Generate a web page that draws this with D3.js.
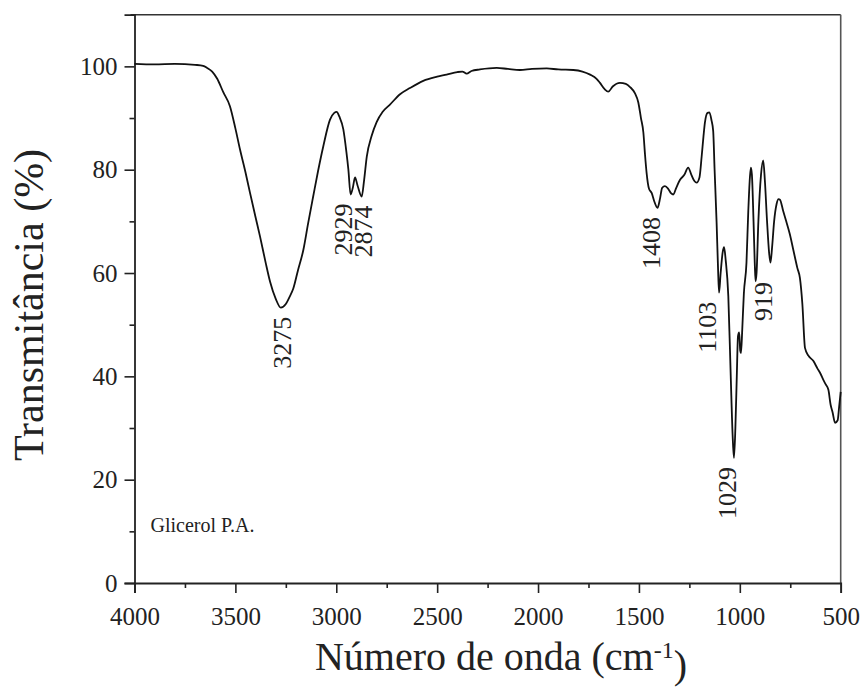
<!DOCTYPE html>
<html>
<head>
<meta charset="utf-8">
<script src="https://cdn.jsdelivr.net/npm/d3@7"></script>
<style>
  html, body { margin: 0; padding: 0; background: #fff; }
  svg { display: block; }
  text { font-family: "Liberation Serif", "Times New Roman", serif; fill: #222; }
</style>
</head>
<body>
<svg id="chart" width="861" height="688"></svg>
<script>
// ---- Data ----
const wavenumber = [4000,3900,3800,3700,3660,3640,3615,3590,3560,3527,3500,3477,3450,3428,3400,3378,3350,3328,3300,3275,3250,3230,3213,3190,3163,3140,3114,3090,3064,3031,3010,2998,2985,2965,2950,2940,2929,2918,2907,2895,2874,2862,2849,2825,2800,2770,2734,2684,2635,2569,2500,2453,2400,2375,2354,2330,2288,2205,2150,2090,2030,1957,1900,1825,1780,1742,1710,1693,1670,1652,1630,1594,1565,1544,1520,1503,1490,1478,1470,1462,1450,1437,1425,1408,1395,1385,1371,1355,1340,1330,1315,1297,1275,1256,1240,1225,1214,1200,1189,1180,1173,1160,1151,1140,1132,1125,1115,1108,1103,1095,1085,1078,1070,1057,1045,1035,1029,1022,1015,1009,1003,998,994,988,980,967,958,950,945,940,932,926,922,917,908,895,884,876,865,855,848,840,830,818,808,801,785,770,752,735,715,702,690,677,660,636,615,600,586,575,561,550,540,528,515,508,500];
const transmittance = [100.5,100.4,100.5,100.3,100.1,99.7,99.0,97.6,95.0,92.3,88.0,83.9,79.5,75.6,70.8,67.1,62.0,58.3,55.0,53.3,54.0,55.5,57.0,60.5,64.5,69.5,74.9,79.8,84.6,89.7,91.0,91.2,90.3,87.8,83.5,80.0,75.2,76.5,78.5,77.0,74.8,78.0,82.5,86.5,89.2,91.2,92.6,94.6,95.8,97.2,98.0,98.4,98.9,99.0,98.6,99.1,99.4,99.7,99.5,99.3,99.5,99.6,99.4,99.3,99.0,98.4,97.6,96.8,95.6,95.1,96.1,96.8,96.6,96.0,94.8,93.0,90.0,87.2,83.0,79.4,76.3,75.5,74.0,72.6,74.5,76.5,76.8,76.3,75.4,75.2,76.5,78.0,79.0,80.4,79.0,77.8,77.5,78.5,82.6,86.5,89.1,91.0,91.1,89.5,87.5,80.0,69.7,61.0,56.2,60.0,64.0,65.0,62.5,55.5,40.0,28.0,24.2,30.0,40.0,47.8,48.5,45.0,44.5,49.0,56.0,62.0,72.0,78.5,80.4,79.0,70.0,62.0,58.4,60.0,70.0,79.0,81.8,78.0,70.0,64.0,62.0,65.0,70.0,73.3,74.3,74.2,72.0,70.0,67.5,64.5,61.0,59.0,54.0,45.5,44.0,43.0,41.5,40.5,39.3,38.5,37.4,34.5,33.0,31.0,31.5,34.0,37.0];

const peakLabels = [3275, 2929, 2874, 1408, 1103, 1029, 919];
const xTickValues = [4000, 3500, 3000, 2500, 2000, 1500, 1000, 500];
const xMinorTickValues = [3750, 3250, 2750, 2250, 1750, 1250, 750];
const yTickValues = [0, 20, 40, 60, 80, 100];
const yMinorTickValues = [10, 30, 50, 70, 90];
const sampleLabel = "Glicerol P.A.";
const xTitle = "Número de onda (cm";
const xTitleSup = "-1";
const yTitle = "Transmitância (%)";

// ---- Layout ----
const svg = d3.select("#chart");
const mLeft = 134.5, mRight = 840.7, mTop = 14.7, mBottom = 583;

const x = d3.scaleLinear().domain([4000, 500]).range([mLeft, mRight]);
const y = d3.scaleLinear().domain([0, 110]).range([mBottom, mTop]);

const data = wavenumber.map((w, i) => ({ w, t: transmittance[i] }));

// frame (top and right)
svg.append("line").attr("x1", mLeft - 4).attr("x2", mRight).attr("y1", mTop).attr("y2", mTop)
  .attr("stroke", "#333").attr("stroke-width", 1.6);
svg.append("line").attr("x1", mRight).attr("x2", mRight).attr("y1", mTop).attr("y2", mBottom)
  .attr("stroke", "#555").attr("stroke-width", 1.6);

// x axis
const gx = svg.append("g").attr("transform", `translate(0,${mBottom})`);
gx.call(d3.axisBottom(x).tickValues(xTickValues).tickFormat(d3.format("d")).tickSize(10).tickPadding(14));
const gxm = svg.append("g").attr("transform", `translate(0,${mBottom})`);
gxm.call(d3.axisBottom(x).tickValues(xMinorTickValues).tickFormat("").tickSize(5));
gxm.select(".domain").remove();

// y axis
const gy = svg.append("g").attr("transform", `translate(${mLeft},0)`);
gy.call(d3.axisLeft(y).tickValues(yTickValues).tickFormat(d3.format("d")).tickSize(10).tickPadding(7));
const gym = svg.append("g").attr("transform", `translate(${mLeft},0)`);
gym.call(d3.axisLeft(y).tickValues(yMinorTickValues).tickFormat("").tickSize(5));
gym.select(".domain").remove();

svg.selectAll(".domain").attr("stroke", "#222").attr("stroke-width", 1.8);
svg.selectAll(".tick line").attr("stroke", "#222").attr("stroke-width", 1.6);
svg.selectAll(".tick text")
  .style("font-family", '"Liberation Serif", "Times New Roman", serif')
  .style("font-size", "25px").attr("fill", "#222");

// spectrum line
const line = d3.line().x(d => x(d.w)).y(d => y(d.t)).curve(d3.curveMonotoneX);
svg.append("path").datum(data).attr("d", line)
  .attr("fill", "none").attr("stroke", "#111").attr("stroke-width", 1.8)
  .attr("stroke-linejoin", "round");

// peak labels (rotated), placed just below the local minimum of the curve
const labelNudge = { 3275: 1, 2929: -8, 2874: 1, 1408: -7, 1103: -12, 1029: -7, 919: 7 };
peakLabels.forEach(p => {
  let best = data[0];
  data.forEach(d => { if (Math.abs(d.w - p) < Math.abs(best.w - p)) best = d; });
  const px = x(p) + labelNudge[p];
  const py = y(best.t) + 9;
  svg.append("text")
    .attr("transform", `translate(${px},${py}) rotate(-90)`)
    .attr("text-anchor", "end")
    .attr("dy", "0.35em")
    .style("font-size", "26px")
    .text(p);
});

// sample label
svg.append("text").attr("x", mLeft + 16).attr("y", 532)
  .style("font-size", "20px").text(sampleLabel);

// x title with superscript
const xt = svg.append("text").attr("x", 501).attr("y", 670)
  .attr("text-anchor", "middle").style("font-size", "40px");
xt.append("tspan").text(xTitle);
xt.append("tspan").attr("dy", "-0.5em").style("font-size", "24px").text(xTitleSup);
xt.append("tspan").attr("dy", "0.5em").text(")");

// y title
svg.append("text")
  .attr("transform", `translate(43,305) rotate(-90)`)
  .attr("text-anchor", "middle")
  .style("font-size", "42px")
  .text(yTitle);
</script>
</body>
</html>
